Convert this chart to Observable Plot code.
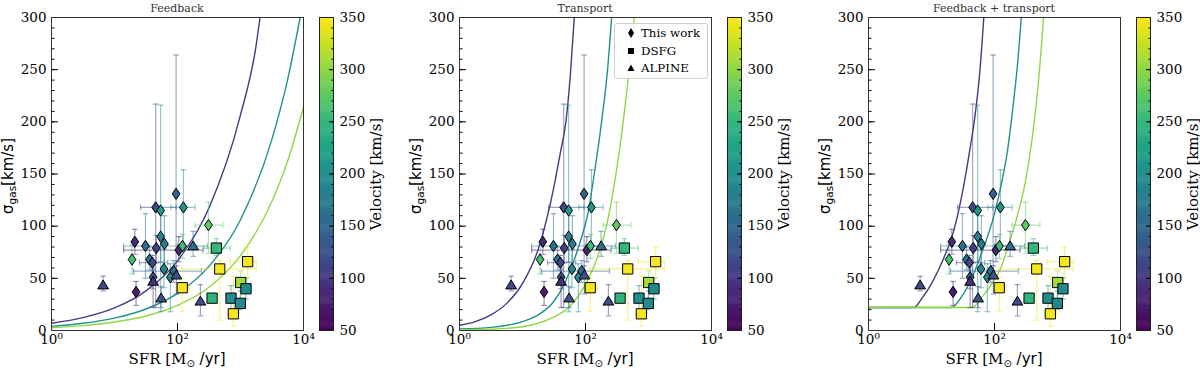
<!DOCTYPE html>
<html><head><meta charset="utf-8">
<script src="https://cdn.jsdelivr.net/npm/d3@7"></script>
<script src="https://cdn.jsdelivr.net/npm/@observablehq/plot@0.6"></script>
<style>
body{margin:0;background:#fff;}
#fig{position:relative;width:1200px;height:371px;background:#fff;overflow:hidden;font-family:"DejaVu Serif",serif;color:#000;}
#fig svg{position:absolute;top:0;}
.lab{position:absolute;white-space:nowrap;transform:translate(-50%,-50%);line-height:1;}
.rot{transform:translate(-50%,-50%) rotate(-90deg);}
.title{font-size:11px;color:#333;}
.ylab{font-family:"DejaVu Sans",sans-serif;font-size:15px;}
.xlab{font-size:15px;}
.cblab{font-size:15px;}
.legend{position:absolute;border:1px solid #d0d0d0;border-radius:3px;background:rgba(255,255,255,0.85);font-size:11.8px;}
.legend .row{position:absolute;left:0;height:16px;display:flex;align-items:center;}
.legend svg{position:static !important;margin-left:10px;margin-right:4px;}
</style></head><body><div id="fig"></div><script>
// ---------- data ----------
const panelTitles = ["Feedback", "Transport", "Feedback + transport"];
const sampleNames = ["This work", "DSFG", "ALPINE"];

const pointSample = [
  "This work","This work","This work","This work","This work","This work","This work","This work","This work","This work",
  "This work","This work","This work","This work","This work","This work","This work","This work","This work","This work",
  "DSFG","DSFG","DSFG","DSFG","DSFG","DSFG","DSFG","DSFG","DSFG","DSFG",
  "ALPINE","ALPINE","ALPINE","ALPINE","ALPINE","ALPINE"];
const pointSFR   = [95, 45, 54, 124, 310, 21, 31, 54, 62, 46, 105, 120, 19, 36, 40, 61, 22, 77, 87, 41,
                    414, 468, 1298, 119, 1007, 1222, 354, 707, 994, 771,
                    6.6, 41, 55, 96, 177, 231];
const pointSigma = [131, 118, 115, 118, 101, 85, 81, 90, 83, 79, 77, 81, 68, 68, 65, 59, 37, 51, 57, 51,
                    79, 59, 66, 41, 46, 40, 31, 31, 26, 16,
                    43.5, 47, 31, 53, 81, 28];
const pointVel   = [140, 120, 210, 205, 275, 85, 160, 180, 175, 105, 80, 255, 260, 165, 115, 185, 72, 195, 150, 130,
                    250, 345, 345, 345, 310, 195, 245, 195, 190, 345,
                    115, 90, 125, 125, 160, 120];
const sfrLow     = [null, 26, null, 79, 191, null, 14, null, null, null, 14, null, null, null, 25, null, null, null, 20, null,
                    260, 118, 690, 100, null, null, null, null, null, 620,
                    null, null, null, null, 100, null];
const sfrHigh    = [null, 95, null, 191, 525, null, 190, null, null, null, 253, null, null, null, 70, null, null, null, 240, null,
                    690, 1780, 1780, 155, null, null, null, null, null, 960,
                    null, null, null, null, 300, null];
const sigmaLow   = [56, 22, 18, 78, 74, 73, 50, 66, 56, 65, 66, 69, 54, 58, 46, 41, 24, 18, 46, 40,
                    72, 10, 51, 18, 28, 30, null, 16, 20, 4,
                    38, 22, 22, 35, 71, 14];
const sigmaHigh  = [264, 217, 216, 154, 123, 97, 112, 112, 110, 91, 90, 92, 82, 80, 72, 78, 47, 64, 67, 60,
                    88, 67, 80, 51, 57, 50, null, 43, 38, 52,
                    52, 58, 42, 62, 95, 44];

const modelVel = [100, 200, 300];
// Feedback model
const fb100SFR = [1, 3.16, 10, 31.6, 100, 316, 1000, 1778, 2040];
const fb100Sig = [7, 12.3, 21.6, 38, 66.8, 117.5, 206.6, 274, 300];
const fb200SFR = [1, 3.16, 10, 31.6, 100, 316, 1000, 3160, 5620, 8850];
const fb200Sig = [4, 6.9, 11.9, 20.6, 35.6, 61.5, 106.2, 183.4, 241, 300];
const fb300SFR = [1, 3.16, 10, 31.6, 100, 316, 1000, 3160, 5620, 10000];
const fb300Sig = [2.7, 4.7, 8.1, 13.9, 24.1, 41.5, 71.7, 123.8, 162.7, 214];
// Transport model
const tr100SFR = [1, 1.78, 3.16, 5.62, 10, 17.8, 31.6, 39.8, 49.1, 57.5, 66.4];
const tr100Sig = [5, 8.5, 15, 26, 45, 78, 138, 170, 201, 245, 300];
const tr200SFR = [1, 3.16, 10, 17.8, 31.6, 47.3, 79.4, 110.7, 133, 180.7, 224, 260];
const tr200Sig = [1.5, 3, 8.5, 15, 28, 46, 82, 114, 144, 201, 250, 300];
const tr300SFR = [1, 3.16, 10, 31.6, 56.2, 100, 158.5, 223.9, 293.8, 398.1, 501.2, 593];
const tr300Sig = [0.6, 1.2, 3.6, 13, 23, 44.5, 72, 105, 144, 201, 254, 300];
// Feedback + transport model
const ft100SFR = [1, 5.25, 7.08, 10, 15.8, 22.4, 31.6, 39.8, 50.1, 58.9, 67.6];
const ft100Sig = [22, 22, 31, 45, 70, 95, 135, 170, 210, 250, 300];
const ft200SFR = [1, 20.7, 28.2, 39.8, 63.1, 100, 125.9, 158.5, 199.5, 234.4, 266.1];
const ft200Sig = [22, 22, 30, 45, 75, 112, 138, 170, 218, 258, 300];
const ft300SFR = [1, 44, 63.1, 91.2, 125.9, 167.5, 223.9, 307.6, 398.1, 501.2, 601];
const ft300Sig = [22, 22, 32, 45, 60, 82, 107, 142, 185, 240, 300];

const xTicks = [1, 100, 10000];
const xTickLabels = ["10⁰", "10²", "10⁴"];
const yMajor = [0, 50, 100, 150, 200, 250, 300];
const yMinor = d3.range(0, 301, 10);
const cbMajor = [50, 100, 150, 200, 250, 300, 350];
const cbMinor = d3.range(50, 351, 10);

// ---------- tables ----------
const points = pointSFR.map((s, i) => ({
  sample: pointSample[i], sfr: s, sigma: pointSigma[i], vel: pointVel[i],
  sfrLo: sfrLow[i], sfrHi: sfrHigh[i], sigLo: sigmaLow[i], sigHi: sigmaHigh[i]
}));
const curveSet = [
  [[fb100SFR, fb100Sig], [fb200SFR, fb200Sig], [fb300SFR, fb300Sig]],
  [[tr100SFR, tr100Sig], [tr200SFR, tr200Sig], [tr300SFR, tr300Sig]],
  [[ft100SFR, ft100Sig], [ft200SFR, ft200Sig], [ft300SFR, ft300Sig]]
].map(p => p.flatMap(([xs, ys], k) => xs.map((x, j) => ({sfr: x, sigma: ys[j], vel: modelVel[k]}))));

const yErr = points.filter(d => d.sigLo != null);
const xErr = points.filter(d => d.sfrLo != null);
const yCaps = yErr.flatMap(d => [{sfr: d.sfr, v: d.sigLo, vel: d.vel}, {sfr: d.sfr, v: d.sigHi, vel: d.vel}]);
const xCaps = xErr.flatMap(d => [{s: d.sfrLo, sigma: d.sigma, vel: d.vel}, {s: d.sfrHi, sigma: d.sigma, vel: d.vel}]);

// ---------- symbols ----------
const rad = size => Math.sqrt(size / Math.PI);
const symDiamond = {draw(c, s){ const r = rad(s); c.moveTo(0, -1.05*r); c.lineTo(0.72*r, 0); c.lineTo(0, 1.05*r); c.lineTo(-0.72*r, 0); c.closePath(); }};
const symSquare = {draw(c, s){ const r = rad(s)*0.95; c.moveTo(-r, -r); c.lineTo(r, -r); c.lineTo(r, r); c.lineTo(-r, r); c.closePath(); }};
const symTriangle = {draw(c, s){ const r = rad(s); c.moveTo(0, -0.95*r); c.lineTo(r, 0.7*r); c.lineTo(-r, 0.7*r); c.closePath(); }};
const symH = {draw(c, s){ const r = rad(s); c.moveTo(-r, 0); c.lineTo(r, 0); }};
const symV = {draw(c, s){ const r = rad(s); c.moveTo(0, -r); c.lineTo(0, r); }};
const sampleSymbols = [symDiamond, symSquare, symTriangle];

const color = {type: "linear", scheme: "viridis", domain: [50, 350]};
const fig = document.getElementById("fig");
const offsets = [0, 408, 817];

function addLabel(html, cls, x, y) {
  const d = document.createElement("div");
  d.className = "lab " + cls;
  d.style.left = x + "px"; d.style.top = y + "px";
  d.innerHTML = html;
  fig.appendChild(d);
}

panelTitles.forEach((title, i) => {
  const ox = offsets[i];
  const main = Plot.plot({
    width: 312, height: 371,
    marginLeft: 51, marginRight: 9, marginTop: 17, marginBottom: 41,
    x: {type: "log", domain: [1, 10000]},
    y: {domain: [0, 300]},
    color,
    style: {fontFamily: '"DejaVu Serif", serif', fontSize: "13.5px", color: "black", background: "none", overflow: "visible"},
    marks: [
      Plot.line(curveSet[i], {x: "sfr", y: "sigma", z: "vel", stroke: "vel", strokeWidth: 1.4, curve: "monotone-x", clip: true}),
      Plot.ruleX(yErr, {x: "sfr", y1: "sigLo", y2: "sigHi", stroke: "vel", strokeOpacity: 0.5, strokeWidth: 1.2}),
      Plot.ruleY(xErr, {y: "sigma", x1: "sfrLo", x2: "sfrHi", stroke: "vel", strokeOpacity: 0.5, strokeWidth: 1.2}),
      Plot.dot(yCaps, {x: "sfr", y: "v", r: 2.8, symbol: symH, fill: "none", stroke: "vel", strokeOpacity: 0.5, strokeWidth: 1.2}),
      Plot.dot(xCaps, {x: "s", y: "sigma", r: 2.8, symbol: symV, fill: "none", stroke: "vel", strokeOpacity: 0.5, strokeWidth: 1.2}),
      ...sampleNames.map((name, k) => Plot.dot(points.filter(d => d.sample === name),
        {x: "sfr", y: "sigma", r: 5.4, symbol: sampleSymbols[k], fill: "vel", stroke: "black", strokeWidth: 1})),
      Plot.axisY({ticks: yMajor, tickSize: 0, tickPadding: 5, label: null}),
      Plot.axisY({ticks: yMajor, tickSize: 7, dx: 7, fill: "none", label: null}),
      Plot.axisY({ticks: yMinor, tickSize: 3.5, dx: 3.5, fill: "none", label: null}),
      Plot.axisX({ticks: xTicks, tickFormat: d => xTickLabels[xTicks.indexOf(d)], tickSize: 0, tickPadding: 4, label: null}),
      Plot.axisX({ticks: xTicks, tickSize: 7, dy: -7, fill: "none", label: null}),
      Plot.frame({stroke: "#333"})
    ]
  });
  main.style.left = ox + "px";
  fig.appendChild(main);

  const cb = Plot.plot({
    width: 100, height: 371,
    marginLeft: 16, marginRight: 70, marginTop: 17, marginBottom: 41,
    y: {domain: [50, 350]},
    color,
    style: {fontFamily: '"DejaVu Serif", serif', fontSize: "13.5px", color: "black", background: "none", overflow: "visible"},
    marks: [
      Plot.barY(d3.range(50, 350, 1), {y1: d => d, y2: d => Math.min(d + 1.5, 350), fill: d => d}),
      Plot.axisY({anchor: "right", ticks: cbMajor, tickSize: 0, tickPadding: 6, label: null}),
      Plot.axisY({anchor: "right", ticks: cbMajor, tickSize: 5, dx: -5, fill: "none", label: null}),
      Plot.axisY({anchor: "right", ticks: cbMinor, tickSize: 2.5, dx: -2.5, fill: "none", label: null}),
      Plot.frame({stroke: "#222"})
    ]
  });
  cb.style.left = (ox + 303) + "px";
  fig.appendChild(cb);

  addLabel(title, "title", ox + 177, 8);
  addLabel('σ<sub style="font-size:10.5px;vertical-align:-3px">gas</sub>[km/s]', "ylab rot", ox + 9, 176);
  addLabel('SFR [M<sub style="font-family:DejaVu Sans,sans-serif;font-size:10px;vertical-align:-3px">⊙</sub><span style="font-family:DejaVu Sans,sans-serif"> /yr]</span>', "xlab", ox + 177, 360);
  addLabel("Velocity [km/s]", "cblab rot", ox + 376, 174);
});

// legend in the Transport panel
const legend = document.createElement("div");
legend.className = "legend";
legend.style.left = "614px"; legend.style.top = "23px";
legend.style.width = "92px"; legend.style.height = "54px";
const legendShapes = [
  '<polygon points="6,2 9,7 6,12 3,7" fill="black"/>',
  '<rect x="3" y="4" width="6" height="6" fill="black"/>',
  '<polygon points="6,3.5 9.5,10 2.5,10" fill="black"/>'
];
sampleNames.forEach((name, k) => {
  const row = document.createElement("div");
  row.className = "row";
  row.style.top = (1 + k * 17.5) + "px";
  row.innerHTML = `<svg width="12" height="14" viewBox="0 0 12 14">${legendShapes[k]}</svg><span>${name}</span>`;
  legend.appendChild(row);
});
fig.appendChild(legend);
</script></body></html>
